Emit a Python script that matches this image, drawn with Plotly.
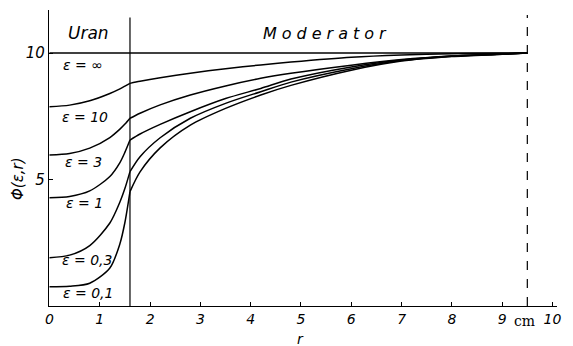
import plotly.graph_objects as go

# ---- data ----
r_uran = [0.0, 0.4, 0.8, 1.2, 1.4, 1.5, 1.6]
r_mod = [1.6, 1.8, 2.2, 2.8, 3.5, 4.2, 4.8, 6.0, 7.0, 8.0, 9.0, 9.5]

eps_labels = ["ε = ∞", "ε = 10", "ε = 3", "ε = 1", "ε = 0,3", "ε = 0,1"]

phi_uran = {
    "inf": [10, 10, 10, 10, 10, 10, 10],
    "10": [7.88, 7.94, 8.11, 8.40, 8.58, 8.69, 8.80],
    "3": [5.97, 6.03, 6.24, 6.66, 6.99, 7.19, 7.42],
    "1": [4.28, 4.33, 4.55, 5.12, 5.67, 6.08, 6.56],
    "0.3": [1.91, 2.01, 2.39, 3.28, 4.11, 4.65, 5.31],
    "0.1": [0.76, 0.78, 0.90, 1.50, 2.46, 3.31, 4.52],
}
phi_mod = {
    "inf": [10, 10, 10, 10, 10, 10, 10, 10, 10, 10, 10, 10],
    "10": [8.80, 8.88, 9.02, 9.20, 9.38, 9.53, 9.64, 9.83, 9.92, 9.97, 9.99, 10],
    "3": [7.42, 7.62, 7.95, 8.34, 8.70, 9.00, 9.20, 9.52, 9.74, 9.88, 9.96, 10],
    "1": [6.56, 6.80, 7.18, 7.68, 8.20, 8.60, 8.97, 9.45, 9.72, 9.88, 9.96, 10],
    "0.3": [5.31, 5.90, 6.65, 7.42, 8.01, 8.47, 8.85, 9.38, 9.70, 9.87, 9.95, 10],
    "0.1": [4.52, 5.30, 6.25, 7.15, 7.81, 8.34, 8.72, 9.32, 9.68, 9.86, 9.95, 10],
}
series_keys = ["inf", "10", "3", "1", "0.3", "0.1"]

label_r = [0.67, 0.70, 0.67, 0.70, 0.74, 0.77]
label_phi = [9.53, 7.48, 5.70, 4.07, 1.82, 0.51]

r_boundary = 1.6
r_cell = 9.5
x_ticks = [0, 1, 2, 3, 4, 5, 6, 7, 8, 9, 10]
y_ticks = [5, 10]
y_top = 11.7

ITAL = dict(family="DejaVu Sans", style="italic", color="black")

fig = go.Figure()
for k in series_keys:
    fig.add_trace(go.Scatter(x=r_uran, y=phi_uran[k], mode="lines",
                             line=dict(color="black", width=1.5, shape="spline", smoothing=0.8),
                             showlegend=False, hoverinfo="skip"))
    fig.add_trace(go.Scatter(x=r_mod, y=phi_mod[k], mode="lines",
                             line=dict(color="black", width=1.5, shape="spline", smoothing=0.8),
                             showlegend=False, hoverinfo="skip"))

# boundaries
fig.add_shape(type="line", x0=r_boundary, x1=r_boundary, y0=0, y1=y_top - 0.3,
              xref="x", yref="y", line=dict(color="black", width=1.2))
fig.add_shape(type="line", x0=r_cell, x1=r_cell, y0=0, y1=y_top - 0.2,
              xref="x", yref="y", line=dict(color="black", width=1.2, dash="dash"))

for txt, xr, yp in zip(eps_labels, label_r, label_phi):
    fig.add_annotation(x=xr, y=yp, text=txt, showarrow=False,
                       font=dict(ITAL, size=14))

fig.add_annotation(x=0.77, y=10.79, text="Uran", showarrow=False,
                   font=dict(ITAL, size=17))
fig.add_annotation(x=5.52, y=10.79,
                   text='<span style="letter-spacing:5px">Moderator</span>',
                   showarrow=False, font=dict(ITAL, size=16))
fig.add_annotation(x=9.45, y=0, yshift=-15, text="cm", showarrow=False,
                   font=dict(family="DejaVu Serif", size=14, color="black"))
fig.add_annotation(xref="paper", yref="paper", x=(300 - 49) / 508, y=-(339 - 306) / 296,
                   xanchor="center", yanchor="middle",
                   text="r", showarrow=False, font=dict(ITAL, size=14))
fig.add_annotation(xref="paper", yref="paper", x=-(49 - 18) / 508, y=(306 - 179) / 296,
                   xanchor="center", yanchor="middle",
                   text="Φ(ε,r)", textangle=-90, showarrow=False,
                   font=dict(ITAL, size=15))

fig.update_xaxes(range=[-0.01, 10.09], tickvals=x_ticks,
                 ticks="inside", ticklen=4, tickcolor="black",
                 showline=True, linecolor="black", linewidth=1.2,
                 showgrid=False, zeroline=False, tickfont=dict(ITAL, size=14))
fig.update_yaxes(range=[0, y_top], tickvals=y_ticks,
                 ticks="inside", ticklen=4, tickcolor="black",
                 showline=True, linecolor="black", linewidth=1.2,
                 showgrid=False, zeroline=False, tickfont=dict(ITAL, size=15))

fig.update_layout(width=573, height=346, margin=dict(l=49, r=16, t=10, b=40),
                  plot_bgcolor="white", paper_bgcolor="white")

fig.write_html("out.html")
